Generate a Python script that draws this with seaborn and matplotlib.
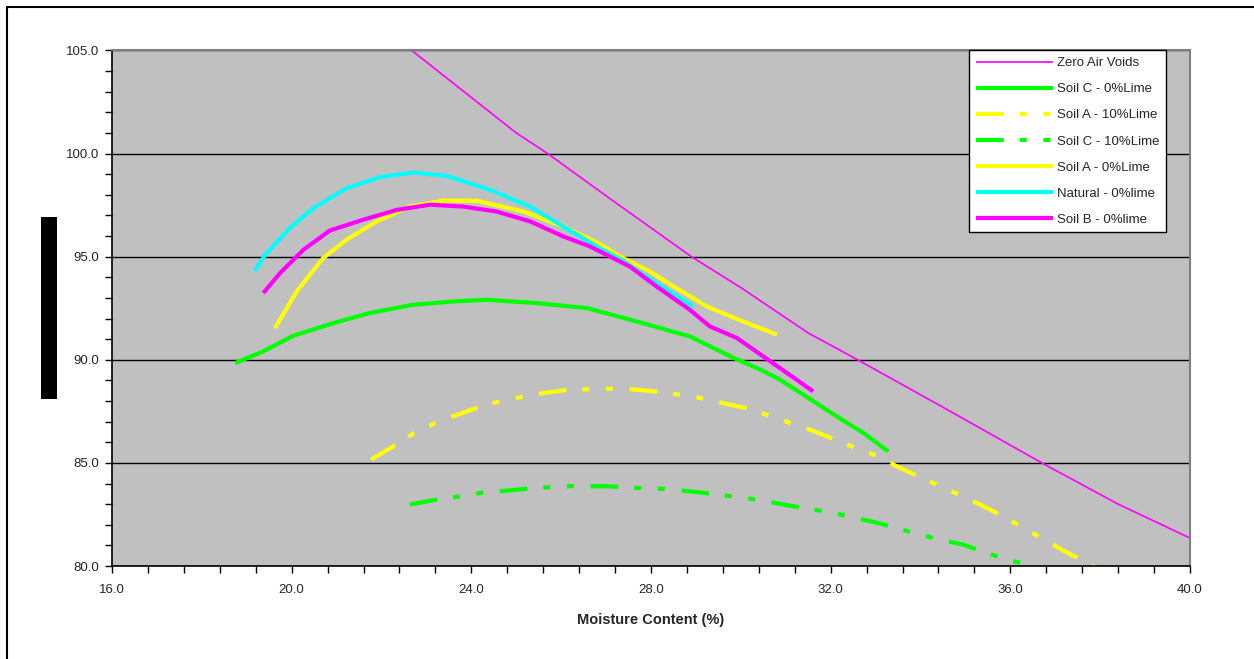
import matplotlib
matplotlib.use("Agg")
import matplotlib.pyplot as plt
import seaborn as sns
from matplotlib.patches import Rectangle
from matplotlib.ticker import MultipleLocator, FormatStrFormatter

# values (moisture content %, dry density)
zav_x = [22.5, 25.0, 25.7, 27.0, 28.9, 30.0, 31.5, 32.6, 34.5, 36.7, 38.4, 40.2]
zav_y = [105.3, 101.0, 100.0, 97.95, 95.0, 93.5, 91.3, 90.0, 87.7, 85.0, 83.0, 81.15]

soilc0_x = [18.74, 19.37, 20.04, 20.93, 21.74, 22.71, 23.6, 24.34, 25.45, 26.57, 27.68,
            28.87, 29.83, 30.44, 30.87, 31.61, 32.13, 32.73, 33.28]
soilc0_y = [89.84, 90.41, 91.17, 91.78, 92.27, 92.67, 92.83, 92.91, 92.75, 92.51, 91.86,
            91.13, 90.1, 89.52, 89.04, 88.0, 87.26, 86.45, 85.56]

soila10_x = [21.77, 22.29, 22.73, 23.28, 23.84, 24.32, 24.84, 25.35, 26.07, 26.86, 27.42,
             28.06, 28.93, 29.49, 30.2, 30.99, 31.55, 32.27, 33.02, 33.54, 34.36, 35.1,
             35.62, 36.36, 37.14, 37.7, 37.95]
soila10_y = [85.16, 85.84, 86.45, 87.02, 87.45, 87.83, 88.07, 88.31, 88.52, 88.6, 88.6,
             88.47, 88.23, 87.95, 87.62, 87.02, 86.61, 85.97, 85.35, 84.76, 83.95, 83.22,
             82.66, 81.77, 80.8, 80.16, 79.85]

soilc10_x = [22.63, 23.15, 23.67, 24.23, 24.86, 25.45, 26.2, 27.01, 27.68, 28.3, 29.05,
             29.8, 30.36, 31.16, 31.83, 32.39, 33.1, 33.9, 34.43, 34.95, 35.47, 35.99, 36.5]
soilc10_y = [82.98, 83.19, 83.35, 83.55, 83.67, 83.79, 83.87, 83.87, 83.79, 83.74, 83.58,
             83.38, 83.22, 82.9, 82.66, 82.42, 82.06, 81.57, 81.28, 81.04, 80.63, 80.28, 80.0]

soila0_x = [19.63, 20.11, 20.7, 21.22, 21.89, 22.63, 23.37, 24.12, 25.16, 26.05, 26.79,
            27.38, 27.98, 28.5, 29.24, 29.91, 30.8]
soila0_y = [91.54, 93.31, 94.93, 95.82, 96.71, 97.43, 97.72, 97.71, 97.19, 96.46, 95.7,
            94.93, 94.28, 93.56, 92.59, 91.98, 91.22]

natural_x = [19.18, 19.41, 19.96, 20.48, 21.22, 21.97, 22.71, 23.45, 24.42, 25.31, 26.05,
             26.79, 27.38, 28.27, 28.94]
natural_y = [94.31, 95.09, 96.39, 97.35, 98.32, 98.86, 99.08, 98.92, 98.24, 97.43, 96.46,
             95.5, 94.8, 93.5, 92.59]

soilb0_x = [19.37, 19.74, 20.26, 20.85, 21.59, 22.34, 23.08, 23.82, 24.56, 25.31, 26.05,
            26.64, 26.94, 27.53, 28.12, 28.86, 29.31, 29.91, 30.87, 31.61]
soilb0_y = [93.24, 94.2, 95.33, 96.27, 96.79, 97.27, 97.52, 97.43, 97.19, 96.71, 95.98,
            95.5, 95.17, 94.52, 93.56, 92.43, 91.62, 91.06, 89.6, 88.47]

labels = ["Zero Air Voids", "Soil C - 0%Lime", "Soil A - 10%Lime", "Soil C - 10%Lime",
          "Soil A - 0%Lime", "Natural - 0%lime", "Soil B - 0%lime"]

dash_dot_dot = (0, (20, 11.5, 5, 12, 5, 12))
series = [
    (zav_x, zav_y, "#FF00FF", 1.2, "-"),
    (soilc0_x, soilc0_y, "#00FF00", 3.0, "-"),
    (soila10_x, soila10_y, "#FFFF00", 3.0, dash_dot_dot),
    (soilc10_x, soilc10_y, "#00FF00", 3.0, dash_dot_dot),
    (soila0_x, soila0_y, "#FFFF00", 3.0, "-"),
    (natural_x, natural_y, "#00FFFF", 3.0, "-"),
    (soilb0_x, soilb0_y, "#FF00FF", 3.0, "-"),
]

sns.set_style("white")
plt.rcParams["font.family"] = ["Liberation Sans", "DejaVu Sans"]
plt.rcParams["lines.scale_dashes"] = False

fig = plt.figure(figsize=(12.54, 6.59), dpi=100)
ax = fig.add_axes([0.0893, 0.1411, 0.8597, 0.7823])
ax.set_facecolor("#C0C0C0")

for (xs, ys, col, lw, ls), lab in zip(series, labels):
    sns.lineplot(x=xs, y=ys, ax=ax, color=col, linewidth=lw, linestyle=ls,
                 sort=False, estimator=None, label=lab, solid_capstyle="butt")

ax.set_xlim(16, 40)
ax.set_ylim(80, 105)
ax.xaxis.set_major_locator(MultipleLocator(4))
ax.xaxis.set_minor_locator(MultipleLocator(0.8))
ax.yaxis.set_major_locator(MultipleLocator(5))
ax.yaxis.set_minor_locator(MultipleLocator(1))
ax.xaxis.set_major_formatter(FormatStrFormatter("%.1f"))
ax.yaxis.set_major_formatter(FormatStrFormatter("%.1f"))
ax.tick_params(which="both", direction="out", length=5, width=1, color="black",
               labelsize=9.5, bottom=True, left=True)
ax.tick_params(axis="x", pad=8)
ax.tick_params(axis="y", pad=4)
ax.grid(axis="y", which="major", color="black", linewidth=1)
ax.set_axisbelow(True)
for side in ["left", "bottom"]:
    ax.spines[side].set_color("black")
    ax.spines[side].set_linewidth(1.2)
for side in ["top", "right"]:
    ax.spines[side].set_color("#808080")
    ax.spines[side].set_linewidth(1.5)

ax.set_xlabel("Moisture Content (%)", fontsize=10.5, fontweight="bold", labelpad=12)
ax.set_ylabel("")

leg = ax.legend(loc="upper left", bbox_to_anchor=(0.795, 1.0), borderaxespad=0,
                fontsize=9.5, frameon=True, fancybox=False, framealpha=1,
                edgecolor="black", handlelength=5.9, handletextpad=0.25,
                labelspacing=1.05, borderpad=0.5)
leg.get_frame().set_linewidth(1)

# redacted y-axis title block and outer chart border
fig.patches.append(Rectangle((0.0327, 0.3945), 0.0128, 0.2762, transform=fig.transFigure,
                             facecolor="black", edgecolor="none"))
fig.patches.append(Rectangle((7 / 1254, -0.1), 1.2, (652 / 659) + 0.1,
                             transform=fig.transFigure, facecolor="none",
                             edgecolor="black", linewidth=1.5))

fig.savefig("out.png", dpi=100)
